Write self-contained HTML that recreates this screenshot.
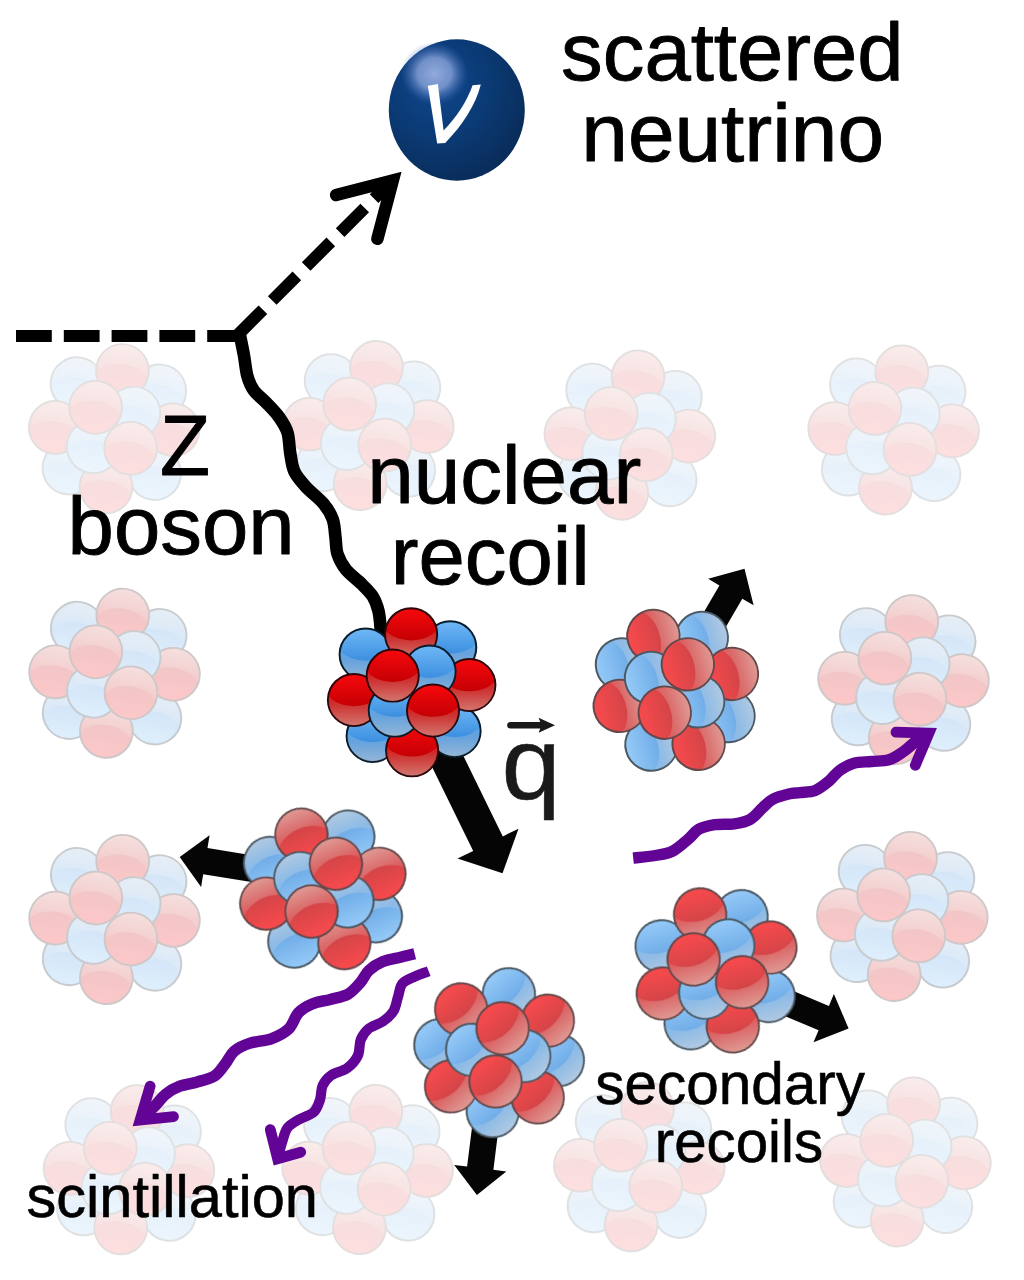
<!DOCTYPE html><html><head><meta charset="utf-8"><title>CEvNS</title><style>html,body{margin:0;padding:0;background:#fff}svg{display:block}text{font-family:"Liberation Sans",sans-serif}</style></head><body>
<svg width="1024" height="1280" viewBox="0 0 1024 1280">
<defs>
<linearGradient id="gr" x1="0" y1="0" x2="0" y2="1"><stop offset="0" stop-color="#f8080c"/><stop offset="0.62" stop-color="#c40004"/><stop offset="1" stop-color="#bc0000"/></linearGradient>
<linearGradient id="gb" x1="0" y1="0" x2="0" y2="1"><stop offset="0" stop-color="#70b8f6"/><stop offset="0.62" stop-color="#3c8fe0"/><stop offset="1" stop-color="#3688dc"/></linearGradient>
<linearGradient id="gl" gradientUnits="userSpaceOnUse" x1="0" y1="-4" x2="0" y2="26"><stop offset="0" stop-color="#ece2d4" stop-opacity="0.10"/><stop offset="1" stop-color="#ece2d4" stop-opacity="0.52"/></linearGradient>
<clipPath id="bc"><circle r="25.3"/></clipPath>
<g id="rball"><circle r="26.0" fill="url(#gr)" stroke="#2e0508" stroke-width="2"/><path d="M-27.5,-8.33 A28,18.02 0 0 0 27.5,-8.33 L27.5,28 L-27.5,28Z" fill="url(#gl)" clip-path="url(#bc)"/></g>
<g id="bball"><circle r="26.0" fill="url(#gb)" stroke="#081c2c" stroke-width="2"/><path d="M-27.5,-8.33 A28,18.02 0 0 0 27.5,-8.33 L27.5,28 L-27.5,28Z" fill="url(#gl)" clip-path="url(#bc)"/></g>
<g id="nuc"><use href="#bball" x="-45.9" y="-37.6"/><use href="#bball" x="38.75" y="-44.75"/><use href="#bball" x="-38.9" y="43.9"/><use href="#bball" x="43.1" y="38.9"/><use href="#rball" x="-0.4" y="-57.8"/><use href="#rball" x="57.9" y="-7.0"/><use href="#rball" x="-57.6" y="7.9"/><use href="#rball" x="0.6" y="58.3"/><use href="#bball" x="18.1" y="-20.4"/><use href="#bball" x="-16.75" y="18.6"/><use href="#rball" x="-18.8" y="-16.4"/><use href="#rball" x="21.5" y="18.5"/></g>
<filter id="fade" x="-10%" y="-10%" width="120%" height="120%" color-interpolation-filters="sRGB"><feComponentTransfer><feFuncR type="linear" slope="0.73" intercept="0.27"/><feFuncG type="linear" slope="0.73" intercept="0.27"/><feFuncB type="linear" slope="0.73" intercept="0.27"/></feComponentTransfer></filter>
<radialGradient id="nug" cx="0.36" cy="0.32" r="0.78"><stop offset="0" stop-color="#0e478c"/><stop offset="0.45" stop-color="#0b3b76"/><stop offset="1" stop-color="#092a55"/></radialGradient>
<radialGradient id="nuh" cx="0.5" cy="0.5" r="0.5"><stop offset="0" stop-color="#a4b8e8" stop-opacity="0.88"/><stop offset="0.5" stop-color="#90a8de" stop-opacity="0.76"/><stop offset="0.8" stop-color="#6080c8" stop-opacity="0.32"/><stop offset="1" stop-color="#3060b0" stop-opacity="0"/></radialGradient>
</defs>
<rect width="1024" height="1280" fill="#fff"/>
<g opacity="0.125"><use href="#nuc" transform="translate(114.3 429.1) rotate(-171.5) scale(1.012)"/></g>
<g opacity="0.125"><use href="#nuc" transform="translate(368.4 425.9) rotate(-171.5) scale(1.012)"/></g>
<g opacity="0.125"><use href="#nuc" transform="translate(629.9 435.4) rotate(-171.5) scale(1.012)"/></g>
<g opacity="0.125"><use href="#nuc" transform="translate(893.7 430.2) rotate(-171.5) scale(1.012)"/></g>
<g opacity="0.22"><use href="#nuc" transform="translate(114.6 673.6) rotate(-171.5) scale(1.012)"/></g>
<g opacity="0.22"><use href="#nuc" transform="translate(903.6 680.0) rotate(-171.5) scale(1.012)"/></g>
<g opacity="0.22"><use href="#nuc" transform="translate(114.6 919.8) rotate(-171.5) scale(1.012)"/></g>
<g opacity="0.22"><use href="#nuc" transform="translate(902.4 916.7) rotate(-171.5) scale(1.012)"/></g>
<g opacity="0.125"><use href="#nuc" transform="translate(129.0 1170.0) rotate(-171.5) scale(1.012)"/></g>
<g opacity="0.125"><use href="#nuc" transform="translate(367.7 1169.8) rotate(-171.5) scale(1.012)"/></g>
<g opacity="0.125"><use href="#nuc" transform="translate(639.4 1167.0) rotate(-171.5) scale(1.012)"/></g>
<g opacity="0.125"><use href="#nuc" transform="translate(905.5 1162.2) rotate(-171.5) scale(1.012)"/></g>
<path d="M16,336 H240" stroke="#000" stroke-width="11.8" stroke-dasharray="35.8 12" fill="none"/>
<path d="M238.3,334.4 L386,186.7" stroke="#000" stroke-width="12.2" stroke-dasharray="34.8 13.2" fill="none"/>
<polyline points="336.1,195.0 392.8,180.5 377.4,238.8" fill="none" stroke="#000" stroke-width="12.5" stroke-linecap="round" stroke-linejoin="miter" stroke-miterlimit="10"/>
<path d="M239.7,334.1 C240.4,337.6 242.6,348.1 243.9,355.1 C245.2,362.1 245.8,370.3 247.4,376.2 C249.0,382.1 250.5,385.9 253.7,390.3 C256.9,394.8 262.2,398.4 266.4,402.9 C270.6,407.3 275.5,412.1 279.0,417.0 C282.5,421.9 285.6,426.4 287.5,432.5 C289.4,438.6 289.1,446.9 290.3,453.5 C291.5,460.1 291.8,466.1 294.5,471.8 C297.2,477.5 301.6,482.2 306.5,487.5 C311.4,492.8 319.2,498.4 323.6,503.7 C328.0,509.0 330.7,513.6 332.7,519.2 C334.7,524.8 334.7,531.6 335.5,537.5 C336.3,543.4 335.8,548.9 337.6,554.3 C339.4,559.7 342.1,564.9 346.1,569.8 C350.1,574.7 357.1,579.4 361.5,583.9 C365.9,588.4 370.0,592.0 372.8,596.5 C375.6,601.0 377.1,605.5 378.4,610.6 C379.7,615.8 380.1,621.7 380.5,627.4 C380.9,633.1 380.9,642.1 381.0,645.0" stroke="#000" stroke-width="12.6" fill="none" stroke-linecap="round" stroke-linejoin="round"/>
<ellipse cx="456.8" cy="110" rx="68" ry="70.7" fill="url(#nug)"/>
<ellipse cx="434.5" cy="73.5" rx="34" ry="31.5" fill="url(#nuh)"/>
<path d="M427.8,85.8 L437.9,84 L443.6,130.5 C457,117 467.3,100.5 472.6,85.3 L480.8,84.6 C476,104.6 462,126 445.2,143 L437.2,143.4Z" fill="#fff"/>
<polygon points="410.2,722.3 473.2,850.9 457.5,858.6 502.5,873.3 518.5,828.7 502.8,836.4 439.8,707.7" fill="#050505"/>
<polygon points="711.4,651.7 742.3,598.7 753.6,605.3 744.5,568.8 708.2,578.8 719.4,585.4 688.6,638.3" fill="#050505"/>
<polygon points="292.1,861.9 207.5,848.0 209.6,835.2 179.7,856.9 201.1,887.0 203.2,874.2 287.9,888.1" fill="#050505"/>
<polygon points="476.9,1088.4 467.1,1166.6 454.2,1165.0 476.9,1195.0 506.3,1171.5 493.4,1169.8 503.1,1091.6" fill="#050505"/>
<polygon points="744.8,999.2 818.6,1030.3 813.5,1042.3 848.6,1028.6 833.9,993.9 828.9,1005.9 755.2,974.8" fill="#050505"/>
<path d="M633.2,858.1 C636.9,857.7 648.6,856.7 655.2,855.5 C661.8,854.3 667.1,853.9 672.7,851.1 C678.3,848.3 684.2,842.5 688.6,838.8 C693.0,835.1 694.7,831.5 699.1,829.1 C703.5,826.8 709.0,825.6 714.9,824.7 C720.8,823.8 728.4,824.7 734.3,823.8 C740.2,822.9 745.4,822.0 750.1,819.4 C754.8,816.8 758.6,811.4 762.4,808.0 C766.2,804.6 768.5,801.5 772.9,799.2 C777.3,796.9 784.2,795.1 788.7,794.0 C793.2,792.9 795.6,793.2 800.0,792.6 C804.4,792.0 810.3,792.5 815.2,790.5 C820.1,788.5 825.1,784.3 829.2,780.9 C833.3,777.5 835.7,773.2 839.8,770.3 C843.9,767.4 848.5,764.8 853.8,763.3 C859.1,761.8 865.5,762.1 871.4,761.5 C877.3,760.9 883.7,761.4 889.0,759.8 C894.3,758.2 898.3,755.1 903.0,751.9 C907.7,748.7 912.8,743.5 917.1,740.4 C921.4,737.3 926.9,734.3 928.9,733.1" stroke="#620596" stroke-width="11.4" fill="none" stroke-linejoin="round"/>
<polyline points="896.0,732.2 928.9,733.1 915.3,765.3" fill="none" stroke="#620596" stroke-width="10.8" stroke-linecap="round" stroke-linejoin="miter" stroke-miterlimit="10"/>
<path d="M414.7,953.7 C412.4,954.3 405.9,955.9 400.6,957.2 C395.3,958.5 388.3,959.4 383.0,961.6 C377.7,963.8 372.8,966.9 369.0,970.4 C365.2,973.9 363.7,978.7 360.2,982.7 C356.7,986.7 352.9,991.4 347.9,994.2 C342.9,997.0 336.2,997.8 330.3,999.4 C324.4,1001.0 318.0,1001.6 312.7,1003.8 C307.4,1006.0 302.8,1008.4 298.7,1012.6 C294.6,1016.8 293.0,1024.8 288.4,1029.2 C283.8,1033.6 277.6,1036.5 271.2,1038.8 C264.8,1041.1 256.2,1041.2 250.1,1043.2 C243.9,1045.2 238.4,1047.7 234.3,1051.1 C230.2,1054.5 228.7,1059.3 225.5,1063.4 C222.3,1067.5 219.6,1072.6 214.9,1075.7 C210.2,1078.8 203.2,1080.2 197.3,1081.9 C191.5,1083.7 185.1,1084.2 179.8,1086.2 C174.5,1088.2 169.8,1091.0 165.7,1094.2 C161.6,1097.4 159.5,1101.3 155.2,1105.6 C150.9,1109.9 142.6,1117.6 140.1,1120.0" stroke="#620596" stroke-width="11.4" fill="none" stroke-linejoin="round"/>
<polyline points="150.1,1086.2 140.1,1120.0 173.5,1116.6" fill="none" stroke="#620596" stroke-width="10.8" stroke-linecap="round" stroke-linejoin="miter" stroke-miterlimit="10"/>
<path d="M428.7,971.3 C426.4,972.2 419.1,974.5 414.7,976.6 C410.3,978.7 405.2,980.2 402.4,983.6 C399.6,987.0 399.5,992.2 398.0,996.8 C396.5,1001.3 396.1,1006.8 393.6,1010.9 C391.1,1015.0 387.1,1018.5 383.0,1021.4 C378.9,1024.3 372.7,1025.4 369.0,1028.4 C365.3,1031.4 362.7,1034.9 360.8,1039.5 C358.9,1044.1 360.1,1051.0 357.8,1055.8 C355.5,1060.6 351.6,1064.9 347.2,1068.1 C342.8,1071.3 335.5,1072.3 331.4,1075.2 C327.3,1078.1 324.5,1081.6 322.6,1085.7 C320.7,1089.8 321.5,1095.4 320.0,1099.8 C318.5,1104.2 317.2,1108.9 313.8,1112.1 C310.4,1115.3 304.2,1116.5 299.8,1119.1 C295.4,1121.7 290.4,1124.1 287.5,1127.9 C284.6,1131.7 283.9,1136.8 282.2,1141.9 C280.5,1147.0 278.4,1155.9 277.6,1158.7" stroke="#620596" stroke-width="10.2" fill="none" stroke-linejoin="round"/>
<polyline points="270.3,1129.6 277.6,1158.7 300.7,1152.2" fill="none" stroke="#620596" stroke-width="10.8" stroke-linecap="round" stroke-linejoin="miter" stroke-miterlimit="10"/>
<g filter="url(#fade)">
<use href="#nuc" transform="translate(675.6 690.1) rotate(-105.4) scale(1.005)"/>
<use href="#nuc" transform="translate(322.9 889.2) rotate(157.9) scale(-1.005 1.005)"/>
<use href="#nuc" transform="translate(499.3 1053.1) rotate(-41.5) scale(-1.005 1.005)"/>
<use href="#nuc" transform="translate(716.3 970.1) rotate(-15.8) scale(1.005)"/>
</g>
<use href="#nuc" transform="translate(411.5 692) rotate(0)"/>
<text transform="translate(561.12 80.3) scale(1.0155 1)" font-size="82" stroke="#000" stroke-width="0.9" stroke-linejoin="round">scattered</text>
<text transform="translate(581.34 161.3) scale(1.0214 1)" font-size="82" stroke="#000" stroke-width="0.9" stroke-linejoin="round">neutrino</text>
<text transform="translate(160.05 474.8) scale(1.0000 1.035)" font-size="82" stroke="#000" stroke-width="0.9" stroke-linejoin="round">Z</text>
<text transform="translate(67.57 554.3) scale(1.0168 1)" font-size="82" stroke="#000" stroke-width="0.9" stroke-linejoin="round">boson</text>
<text transform="translate(367.25 503.0) scale(1.0196 1)" font-size="82" stroke="#000" stroke-width="0.9" stroke-linejoin="round">nuclear</text>
<text transform="translate(390.67 584.3) scale(1.0165 1)" font-size="82" stroke="#000" stroke-width="0.9" stroke-linejoin="round">recoil</text>
<text transform="translate(595.20 1104.3) scale(0.9994 1)" font-size="58.5" stroke="#000" stroke-width="0.6" stroke-linejoin="round">secondary</text>
<text transform="translate(654.81 1161.6) scale(0.9958 1)" font-size="58.5" stroke="#000" stroke-width="0.6" stroke-linejoin="round">recoils</text>
<text transform="translate(26.48 1217.2) scale(1.0188 1)" font-size="58.5" stroke="#000" stroke-width="0.6" stroke-linejoin="round">scintillation</text>
<text transform="translate(501.6 798.6) scale(1.048 1)" font-size="101.5" fill="#1a1a1a" stroke="#1a1a1a" stroke-width="0.5">q</text>
<path d="M510.5,725.2 H545" stroke="#1a1a1a" stroke-width="6.6" stroke-linecap="round" fill="none"/>
<path d="M555,725.3 L538.6,717.8 Q542.5,725.3 538.6,732.8Z" fill="#1a1a1a"/>
</svg></body></html>
